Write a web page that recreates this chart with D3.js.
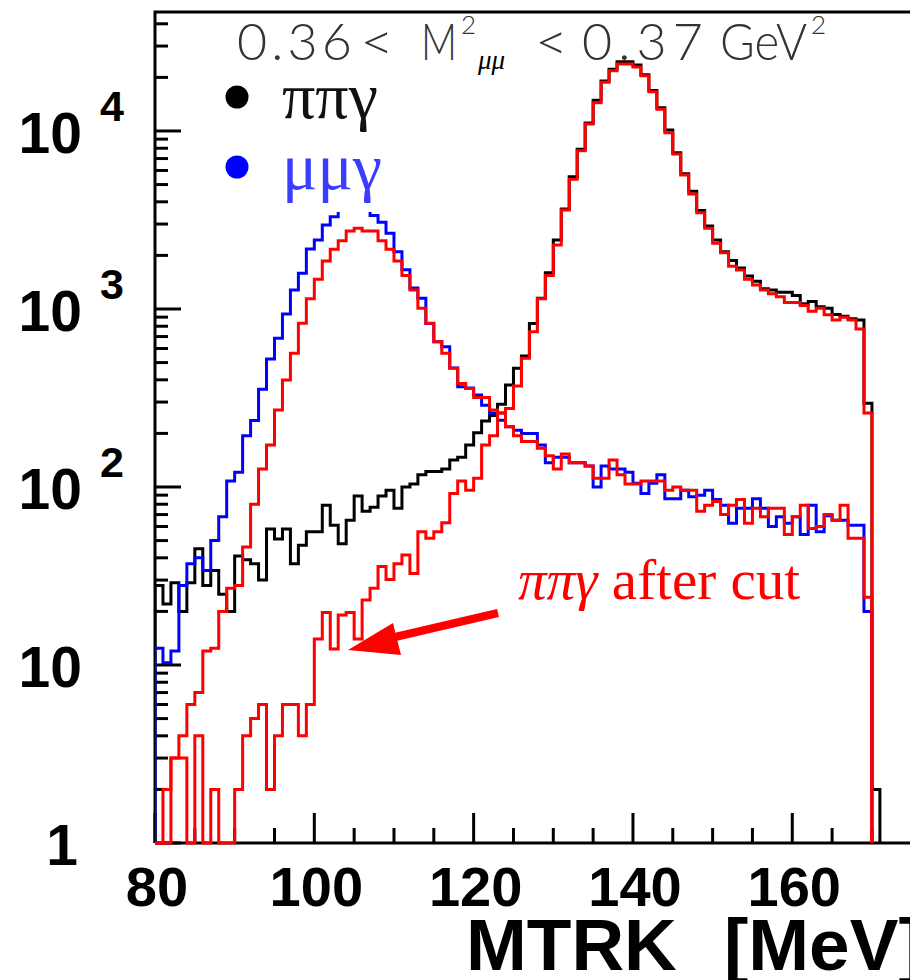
<!DOCTYPE html>
<html><head><meta charset="utf-8">
<script src="https://cdn.jsdelivr.net/npm/d3@7"></script>
<style>body{margin:0;background:#fff}svg{display:block}</style>
</head><body>
<script>
// ---------------- data ----------------
const binLow = 80;      // MeV, lower edge of first bin
const binWidth = 1;     // MeV
// pi pi gamma (black)
const pipigamma = [28,22,29,20,29,45,28,34,25,20,
  41,39,37,30,58,51,58,37,47,56,
  56,79,61,48,65,89,73,77,89,96,
  76,100,104,117,122,122,126,142,147,172,
  202,235,252,292,374,464,544,830,1150,1600,
  2440,3650,5540,7900,11100,14900,19100,22200,24500,24500,
  23500,20700,16900,13500,10130,7550,5750,4580,3580,2930,
  2440,2100,1870,1700,1530,1430,1300,1280,1240,1240,
  1190,1070,1100,1030,1010,930,910,880,867,295,
  2];
// mu mu gamma (blue)
const mumugamma = [12.4,10.3,12,28,37,40,34,50,68,108,
  121,194,236,354,524,685,937,1280,1590,2170,
  2440,2960,3300,3700,3850,3850,3700,3350,3070,2660,
  2100,1660,1310,1150,830,655,614,466,366,360,
  329,288,260,237,218,208,200,200,172,137,
  147,147,137,137,131,100,131,126,126,121,
  105,92,105,117,86,86,96,88,90,96,
  85,79,62.5,76,76,86,76,60,68,62.5,
  68,54,79,56,69,65,65,61,61,20];
// mu mu gamma after cut (red)
const mumugammaCut = [0,2,3,4,6,7,12,12.4,20,27,
  28,46,80,126,172,271,399,564,831,1140,
  1470,1860,2165,2420,2740,2840,2740,2740,2420,2165,
  1860,1540,1280,1010,831,655,564,464,382,357,
  318,318,271,260,218,194,180,180,165,150,
  126,153,137,137,131,112,112,142,117,104,
  104,108,108,108,96,100,96,96,73,79,
  83,70,79,85,62.5,76,68,76,76,54,
  68,79,58.5,60,70,65,79,51.5,51.5,24];
// pi pi gamma after cut (red)
const pipigammaCut = [0,0,3,3,0,4,0,2,0,0,
  2,4,5,6,2,4,6,6,4,6,
  14,19.7,12.3,19.1,19.7,14,23.2,27,35.7,30.2,
  37,41.5,32.7,56,51.5,56,63,92,108,96,
  112,172,194,260,276,369,528,746,1140,1540,
  2290,3600,5350,7750,10940,14420,18800,21800,23800,23800,
  22900,20400,16600,13240,9780,7430,5660,4430,3475,2840,
  2340,2070,1740,1656,1468,1365,1279,1219,1173,1088,
  1088,1045,972,1009,929,867,898,867,773,260];
const xTickLabels = [80,100,120,140,160];
const yDecades = [1,10,100,1000,10000];
const yDecadeBase = ["1","10","10","10","10"];
const yDecadeExp = ["","","2","3","4"];
const legendLabels = ["ππγ","μμγ"];
const annotationGreek = "ππγ";
const annotationText = " after cut";
const axisTitle = ["MTRK", "[MeV]"];

// ---------------- drawing ----------------
(function () {
const W = 910, H = 980;
const svg = d3.select("body").append("svg").attr("width", W).attr("height", H);
const x = d3.scaleLinear().domain([80, 180]).range([155, 155 + 100 * 7.966]);
const y = d3.scaleLog().domain([1, 46600]).range([843, 12]);
const pBottom = 843, pTop = 12, pLeft = 155;
const sans = "Liberation Sans, Arial, sans-serif";
const serif = "Liberation Serif, Times New Roman, serif";

// axes frame
const g = svg.append("g");
g.append("path").attr("d", `M${pLeft},${pBottom}V${pTop}H${W + 5}`)
  .attr("fill", "none").attr("stroke", "#000").attr("stroke-width", 3);
g.append("path").attr("d", `M${pLeft},${pBottom}H${W + 5}`)
  .attr("fill", "none").attr("stroke", "#000").attr("stroke-width", 3);

// x ticks
d3.range(80, 181, 5).forEach(v => {
  const major = v % 20 === 0;
  g.append("line").attr("x1", x(v)).attr("x2", x(v))
    .attr("y1", pBottom).attr("y2", pBottom - (major ? 30 : 15))
    .attr("stroke", "#000").attr("stroke-width", 3);
});
// y ticks
yDecades.forEach(d => {
  g.append("line").attr("x1", pLeft).attr("x2", pLeft + 26)
    .attr("y1", y(d)).attr("y2", y(d)).attr("stroke", "#000").attr("stroke-width", 3);
  for (let m = 2; m <= 9; m++) {
    const v = m * d;
    if (v > y.domain()[1]) break;
    g.append("line").attr("x1", pLeft).attr("x2", pLeft + 13)
      .attr("y1", y(v)).attr("y2", y(v)).attr("stroke", "#000").attr("stroke-width", 3);
  }
});

// tick labels
xTickLabels.forEach(v => {
  svg.append("text").attr("x", x(v) + 2).attr("y", 906)
    .attr("text-anchor", "middle").attr("font-family", sans).attr("font-weight", "bold")
    .attr("font-size", 56).attr("fill", "#000").text(v);
});
yDecades.forEach((d, i) => {
  const t = svg.append("text").attr("y", y(d) + 22)
    .attr("font-family", sans).attr("font-weight", "bold")
    .attr("font-size", 57).attr("fill", "#000").attr("text-anchor", "end");
  t.attr("x", i === 0 ? 78 : 82).text(yDecadeBase[i]);
  if (yDecadeExp[i]) {
    svg.append("text").attr("x", 100).attr("y", y(d) - 10)
      .attr("font-family", sans).attr("font-weight", "bold")
      .attr("font-size", 43).attr("fill", "#000").text(yDecadeExp[i]);
  }
});

// axis title
svg.append("text").attr("x", 466).attr("y", 970)
  .attr("font-family", sans).attr("font-weight", "bold")
  .attr("font-size", 73).attr("fill", "#000").text(axisTitle[0]);
svg.append("text").attr("x", 724).attr("y", 970)
  .attr("font-family", sans).attr("font-weight", "bold")
  .attr("font-size", 73).attr("fill", "#000").text(axisTitle[1]);

// histograms
function histPath(vals) {
  const yv = v => v >= 1 ? y(v) : pBottom;
  const pts = [[x(binLow), pBottom]];
  vals.forEach((v, i) => {
    const x0 = x(binLow + i * binWidth), x1 = x(binLow + (i + 1) * binWidth);
    pts.push([x0, yv(v)], [x1, yv(v)]);
  });
  pts.push([x(binLow + vals.length * binWidth), pBottom]);
  return d3.line()(pts);
}
svg.append("clipPath").attr("id", "clip").append("rect")
  .attr("x", pLeft).attr("y", pTop).attr("width", W).attr("height", pBottom - pTop + 2);
const hg = svg.append("g").attr("clip-path", "url(#clip)");
[[pipigamma, "#000"], [mumugamma, "#0000ff"], [pipigammaCut, "#ff0000"], [mumugammaCut, "#ff0000"]]
  .forEach(([vals, col]) => {
    hg.append("path").attr("d", histPath(vals)).attr("fill", "none")
      .attr("stroke", col).attr("stroke-width", 3).attr("stroke-linejoin", "miter");
  });

// legend box (white, covers the plot)
svg.append("rect").attr("x", 190).attr("y", 15).attr("width", 182).attr("height", 197).attr("fill", "#fff");
svg.append("circle").attr("cx", 237).attr("cy", 97).attr("r", 11.5).attr("fill", "#000");
svg.append("circle").attr("cx", 237).attr("cy", 167).attr("r", 11.5).attr("fill", "#0000ff");
svg.append("text").attr("x", 282).attr("y", 118).attr("font-family", serif)
  .attr("font-size", 66).attr("fill", "#111").text(legendLabels[0]);
svg.append("text").attr("x", 282).attr("y", 189).attr("font-family", serif)
  .attr("font-size", 66).attr("fill", "#3c3cff").text(legendLabels[1]);

// title
const tf = "Lato, Liberation Sans, sans-serif";
function tt(xp, yp, size, txt, len, adj, extra) {
  const t = svg.append("text").attr("x", xp).attr("y", yp).attr("font-family", tf)
    .attr("font-weight", 300).attr("font-size", size).attr("fill", "#333").text(txt);
  if (len) t.attr("textLength", len).attr("lengthAdjust", adj || "spacing");
  if (extra) extra(t);
  return t;
}
tt(237, 60, 52, "0.36", 115);
tt(360, 60, 52, "<", 34, "spacingAndGlyphs");
tt(421, 60, 52, "M", 36, "spacingAndGlyphs");
tt(461, 34, 26, "2");
tt(478, 69, 27, "μμ", 0, null, t => t.attr("font-style", "italic").attr("fill", "#000").attr("font-family", serif).attr("font-weight", "normal"));
tt(535, 60, 52, "<", 33, "spacingAndGlyphs");
tt(582, 60, 52, "0.37", 121);
tt(720, 60, 52, "GeV", 87, "spacingAndGlyphs");
tt(811, 34, 26, "2");

// annotation
const at = svg.append("text").attr("x", 518).attr("y", 599)
  .attr("font-family", serif).attr("font-size", 57).attr("fill", "#ff0000");
at.append("tspan").attr("font-style", "italic").text(annotationGreek);
at.append("tspan").text(annotationText);
svg.append("line").attr("x1", 498).attr("y1", 613).attr("x2", 395).attr("y2", 637)
  .attr("stroke", "#ff0000").attr("stroke-width", 8);
svg.append("polygon").attr("points", "348,650 393,623 401,655").attr("fill", "#ff0000");
})();
</script>
</body></html>
